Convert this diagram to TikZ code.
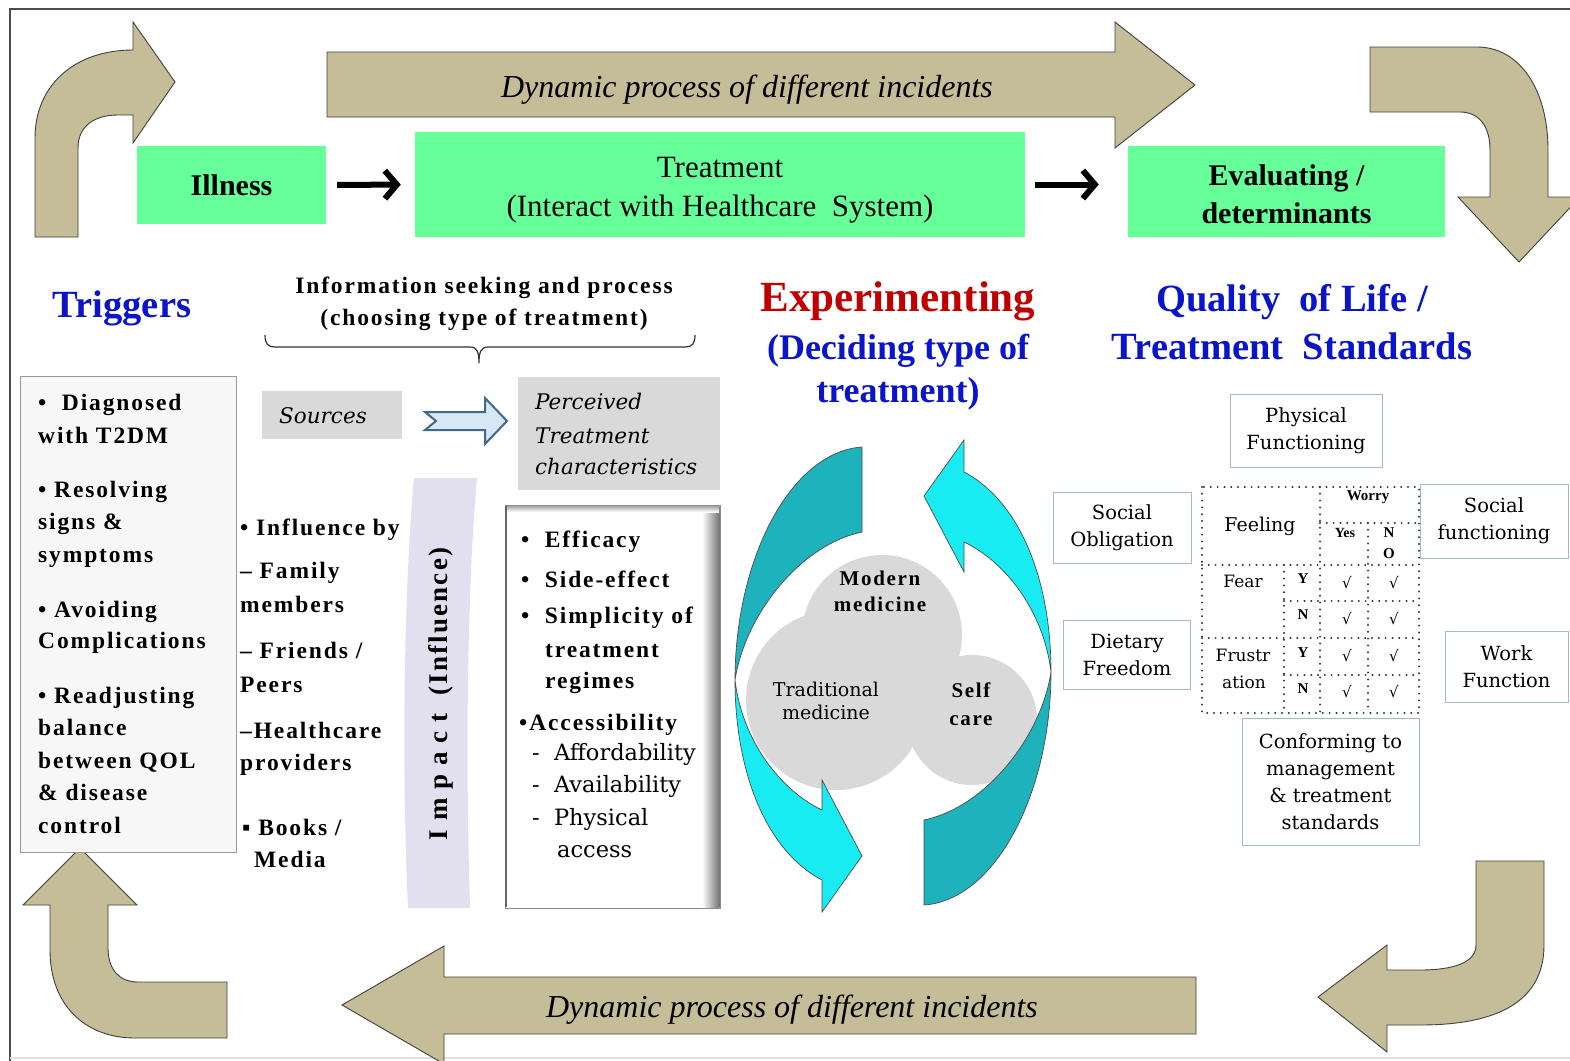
\documentclass[tikz,border=0pt]{standalone}
\usepackage{fontspec}
\setmainfont{Liberation Serif}
\newfontfamily\dv{DejaVu Serif}
\newfontfamily\spc[LetterSpace=8]{Liberation Serif}
\usetikzlibrary{arrows.meta}
\newcommand\fsz[2]{\fontsize{#1}{#2}\selectfont}
\definecolor{tanc}{RGB}{196,189,151}
\definecolor{greenc}{RGB}{102,255,153}
\definecolor{grayc}{RGB}{217,217,217}
\definecolor{lavc}{RGB}{226,223,238}
\definecolor{tealc}{RGB}{30,178,188}
\definecolor{cyanc}{RGB}{24,236,242}
\definecolor{bluec}{RGB}{10,20,200}
\definecolor{redc}{RGB}{192,0,0}
\definecolor{boxc}{RGB}{165,185,205}
\definecolor{arrc}{RGB}{65,105,140}
\definecolor{arrf}{RGB}{215,232,244}
\begin{document}
\begin{tikzpicture}[x=1pt,y=-1pt,
  bent/.style={fill=tanc, draw=black!75, line width=0.9pt},
  gbox/.style={fill=greenc, inner sep=0pt, align=center},
  qbox/.style={draw=boxc, line width=0.9pt, fill=white, inner sep=0pt, align=center, font=\dv\fsz{19.5}{27}},
  blk/.style={line width=6pt, -{Straight Barb[length=12pt,width=28pt]}},
  tl/.style={anchor=base west, inner sep=0pt, font=\spc\bfseries\fsz{23.5}{30}},
  tr/.style={anchor=base west, inner sep=0pt, font=\dv\fsz{22.5}{30}},
  ti/.style={anchor=base west, inner sep=0pt, font=\dv\itshape\fsz{21.5}{30}},
  sm/.style={inner sep=0pt, font=\bfseries\fsz{15}{18}},
  cell/.style={inner sep=0pt, font=\dv\fsz{17}{20}},
  chk/.style={inner sep=0pt, font=\dv\fsz{15}{18}},
  dot/.style={line width=2.2pt, line cap=round, dash pattern=on 0pt off 6.8pt, black!80},
  cyarrow/.style={draw=black!70, line width=0.7pt}
]
\useasboundingbox (0,0) rectangle (1570,1060);
\fill[white] (0,0) rectangle (1570,1060);
% frame
\draw[black!70, line width=1.5pt] (10,1062) -- (10,9) -- (1572,9);
\draw[black!12, line width=2pt] (10,1058) -- (1570,1058);

% tan arrows
\draw[bent] (35,237) -- (35,138) .. controls (35,85) and (75,50) .. (133,50) -- (133,22) -- (175,82) -- (133,143) -- (133,115) -- (118,115) .. controls (92,115) and (78,128) .. (78,148) -- (78,237) -- cycle;
\draw[bent] (327,52) -- (1115,52) -- (1115,22) -- (1195,85) -- (1115,148) -- (1115,117) -- (327,117) -- cycle;
\node[font=\itshape\fsz{32}{36}] (dyn1) at (747,90) {Dynamic process of different incidents};
\draw[bent] (1370,47) -- (1477,47) .. controls (1520,47) and (1548,90) .. (1548,150) -- (1548,197) -- (1580,197) -- (1519,262) -- (1458,197) -- (1490,197) -- (1490,150) .. controls (1490,125) and (1478,112) .. (1460,112) -- (1370,112) -- cycle;
\draw[bent] (1196,977) -- (444,977) -- (444,946) -- (342,1005) -- (444,1064) -- (444,1034) -- (1196,1034) -- cycle;
\node[font=\itshape\fsz{32}{36}] (dyn2) at (792,1010) {Dynamic process of different incidents};
\draw[bent] (80,848) -- (137,905) -- (108,905) -- (108,948) .. controls (108,968) and (118,982) .. (138,982) -- (227,982) -- (227,1038) -- (135,1038) .. controls (85,1038) and (50,1005) .. (50,950) -- (50,905) -- (23,905) -- cycle;
\draw[bent] (1476,861) -- (1544,861) -- (1544,945) .. controls (1544,1000) and (1500,1025) .. (1420,1025) -- (1387,1025) -- (1387,1052) -- (1318,997) -- (1387,945) -- (1387,970) -- (1420,970) .. controls (1455,970) and (1476,962) .. (1476,945) -- cycle;

% green boxes
\node[gbox, minimum width=189pt, minimum height=78pt, font=\bfseries\fsz{30}{36}] (ill) at (231.5,185) {Illness};
\node[gbox, minimum width=610pt, minimum height=105pt] (treat) at (720,184.5) {};
\node[inner sep=0pt, align=center, font=\fsz{31}{39}] (treatt) at (720,190) {Treatment\\(Interact with Healthcare\ \ System)};
\node[gbox, minimum width=317pt, minimum height=91pt] (eval) at (1286.5,191.5) {};
\node[inner sep=0pt, align=center, font=\bfseries\fsz{30}{38}] (evalt) at (1286.5,194) {Evaluating /\\determinants};
\draw[blk, shorten <=11pt, shorten >=14pt] (ill.east) -- (treat.west);
\draw[blk, shorten <=10pt, shorten >=29pt] (treat.east) -- (treat.east -| eval.west);

% headings
\node[font=\bfseries\fsz{38.5}{44}, text=bluec] (trig) at (122,308) {Triggers};
\node[font=\spc\bfseries\fsz{23.5}{32}, align=center] (info) at (484,304) {Information seeking and process\\(choosing type of treatment)};
\draw[black!80, line width=1.2pt] (265,335) .. controls (265,344) and (268,347) .. (275,347) -- (470,347) .. controls (477,347) and (479,352) .. (479,363) .. controls (479,352) and (481,347) .. (488,347) -- (685,347) .. controls (692,347) and (695,344) .. (695,335);
\node[font=\bfseries\fsz{43}{48}, text=redc] (exp) at (898,301) {Experimenting};
\node[font=\bfseries\fsz{36}{43}, text=bluec, align=center] (dec) at (898,372) {(Deciding type of\\treatment)};
\node[font=\bfseries\fsz{38.5}{48}, text=bluec, align=center] (qol) at (1292,322) {Quality\ \ of Life /\\Treatment\ \ Standards};

% triggers box
\node[draw=black!40, fill=black!3, line width=1pt, minimum width=216pt, minimum height=476pt, anchor=north west, inner sep=0pt] (tbox) at (20,376) {};
\node[tl] (tr1) at (38,410) {•\ \ Diagnosed};
\node[tl] (tr2) at (38,443) {with T2DM};
\node[tl] (tr3) at (38,497) {• Resolving};
\node[tl] (tr4) at (38,529) {signs \&};
\node[tl] (tr5) at (38,562) {symptoms};
\node[tl] (tr6) at (38,617) {• Avoiding};
\node[tl] (tr7) at (38,648) {Complications};
\node[tl] (tr8) at (38,703) {• Readjusting};
\node[tl] (tr9) at (38,735) {balance};
\node[tl] (tr10) at (38,768) {between QOL};
\node[tl] (tr11) at (38,800) {\& disease};
\node[tl] (tr12) at (38,833) {control};

% sources and perceived
\node[fill=grayc, minimum width=140pt, minimum height=48pt, inner sep=0pt] (src) at (332,415) {};
\node[ti] (srct) at (279,423) {Sources};
\draw[fill=arrf, draw=arrc, line width=2pt, line join=miter] (425,412) -- (485,412) -- (485,398) -- (507,421) -- (485,444) -- (485,430) -- (425,430) -- (436,421) -- cycle;
\node[fill=grayc, minimum width=202pt, minimum height=113pt, anchor=north west, inner sep=0pt] (perc) at (518,377) {};
\node[ti] (pc1) at (535,409) {Perceived};
\node[ti] (pc2) at (535,443) {Treatment};
\node[ti] (pc3) at (535,474) {characteristics};

% impact band
\fill[lavc] (414,478) .. controls (403,600) and (402,780) .. (408,908) -- (470,908) .. controls (466,780) and (466,600) .. (477,478) -- cycle;
\node[rotate=90, font=\spc\bfseries\fsz{27}{30}] (imp) at (441,694) {I m p a c t\ \ (Influence)};

% influence list
\node[tl] (in1) at (240,535) {• Influence by};
\node[tl] (in2) at (240,578) {– Family};
\node[tl] (in3) at (240,612) {members};
\node[tl] (in4) at (240,658) {– Friends /};
\node[tl] (in5) at (240,692) {Peers};
\node[tl] (in6) at (240,738) {–Healthcare};
\node[tl] (in7) at (240,770) {providers};
\node[tl] (in8) at (242,835) {▪ Books /};
\node[tl] (in9) at (254,867) {Media};

% treatment characteristics box
\node[draw=black!45, fill=white, line width=1pt, minimum width=215pt, minimum height=403pt, anchor=north west, inner sep=0pt] (tcb) at (505,505) {};
\shade[left color=white, right color=black!55] (702,506) rectangle (719.5,907.5);
\shade[top color=black!35, bottom color=white] (506,506) rectangle (719,512);
\draw[black!60, line width=2pt] (506,506) -- (506,907);
\node[tl] (ef1) at (521,547) {•\ \ Efficacy};
\node[tl] (ef2) at (521,587) {•\ \ Side-effect};
\node[tl] (ef3) at (521,623) {•\ \ Simplicity of};
\node[tl] (ef4) at (545,657) {treatment};
\node[tl] (ef5) at (545,688) {regimes};
\node[tl] (ef6) at (519,730) {•Accessibility};
\node[tr] (ef7) at (532,760) {-\ \ Affordability};
\node[tr] (ef8) at (532,792) {-\ \ Availability};
\node[tr] (ef9) at (532,825) {-\ \ Physical};
\node[tr] (ef10) at (557,857) {access};

% clover
\fill[grayc] (882,635) circle[radius=80pt];
\fill[grayc] (836,700) circle[radius=90pt];
\fill[grayc] (972,720) circle[radius=65pt];
\node[font=\spc\bfseries\fsz{21}{26}, align=center, inner sep=0pt] (mod) at (880,591) {Modern\\medicine};
\node[font=\dv\fsz{19}{23}, align=center, inner sep=0pt] (trad) at (826,701) {Traditional\\medicine};
\node[font=\spc\bfseries\fsz{21}{28}, align=center, inner sep=0pt] (self) at (971,704) {Self\\care};

% cyan circular arrows
\filldraw[cyarrow, fill=tealc] (862,447) .. controls (790,452) and (735,560) .. (735,680) .. controls (745,615) and (800,545) .. (862,532) -- cycle;
\filldraw[cyarrow, fill=cyanc] (735,680) .. controls (735,770) and (765,850) .. (822,880) -- (822,912) -- (862,856) -- (822,780) -- (822,810) .. controls (780,790) and (742,740) .. (735,680) -- cycle;
\begin{scope}[rotate around={180:(893,676)}]
\filldraw[cyarrow, fill=tealc] (862,447) .. controls (790,452) and (735,560) .. (735,680) .. controls (745,615) and (800,545) .. (862,532) -- cycle;
\filldraw[cyarrow, fill=cyanc] (735,680) .. controls (735,770) and (765,850) .. (822,880) -- (822,912) -- (862,856) -- (822,780) -- (822,810) .. controls (780,790) and (742,740) .. (735,680) -- cycle;
\end{scope}

% QOL boxes
\node[qbox, minimum width=152pt, minimum height=73pt] (phys) at (1306,430.5) {Physical\\Functioning};
\node[qbox, minimum width=138pt, minimum height=71pt] (sobl) at (1122,528) {Social\\Obligation};
\node[qbox, minimum width=127pt, minimum height=69pt] (diet) at (1127,655) {Dietary\\Freedom};
\node[qbox, minimum width=148pt, minimum height=74pt] (sfun) at (1494,521) {Social\\functioning};
\node[qbox, minimum width=123pt, minimum height=71pt] (work) at (1506.5,667) {Work\\Function};
\node[qbox, minimum width=177pt, minimum height=127pt] (conf) at (1330.5,781.5) {Conforming to\\management\\\& treatment\\standards};

% dotted table
\draw[dot] (1202,487) rectangle (1419,713);
\draw[dot] (1320,487) -- (1320,713);
\draw[dot] (1284,565) -- (1284,713);
\draw[dot] (1368,523) -- (1368,713);
\draw[dot] (1320,523) -- (1419,523);
\draw[dot] (1202,565) -- (1419,565);
\draw[dot] (1284,601) -- (1419,601);
\draw[dot] (1202,638) -- (1419,638);
\draw[dot] (1284,675) -- (1419,675);
\node[sm] (worry) at (1368,497) {Worry};
\node[inner sep=0pt, font=\dv\fsz{19}{22}] (feel) at (1260,526) {Feeling};
\node[sm, font=\bfseries\fsz{14}{16}] (yes) at (1345,533) {Yes};
\node[sm] (no1) at (1389,533) {N};
\node[sm] (no2) at (1389,554) {O};
\node[cell] (fear) at (1243,581) {Fear};
\node[cell] (frus1) at (1243,655) {Frustr};
\node[cell] (frus2) at (1244,682) {ation};
\node[sm] (y1) at (1303,579) {Y};
\node[sm] (n1) at (1303,615) {N};
\node[sm] (y2) at (1303,653) {Y};
\node[sm] (n2) at (1303,689) {N};
\node[chk] (c11) at (1347,583) {√};
\node[chk] (c12) at (1394,583) {√};
\node[chk] (c21) at (1347,619) {√};
\node[chk] (c22) at (1394,619) {√};
\node[chk] (c31) at (1347,656) {√};
\node[chk] (c32) at (1394,656) {√};
\node[chk] (c41) at (1347,692) {√};
\node[chk] (c42) at (1394,692) {√};
\end{tikzpicture}
\end{document}
